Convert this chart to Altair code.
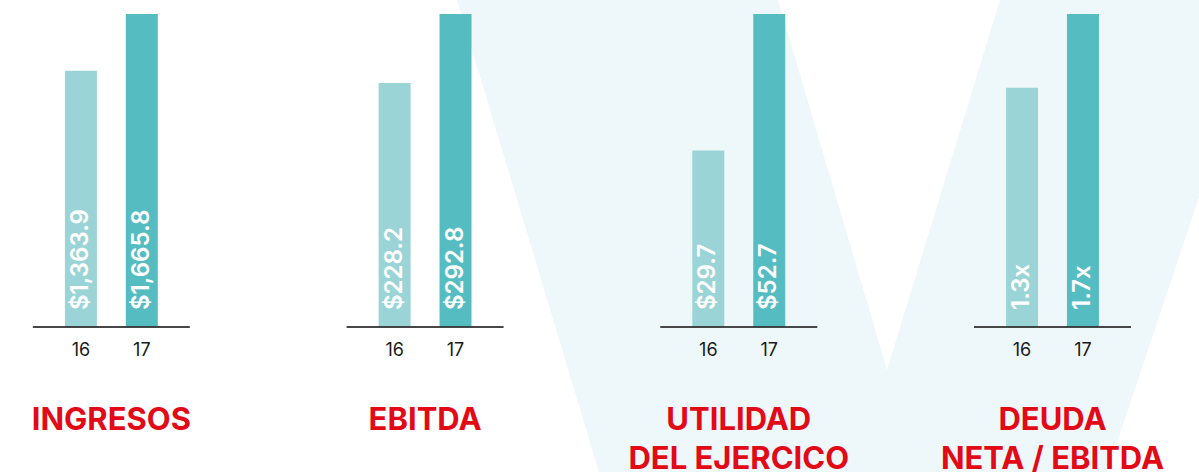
import altair as alt
import pandas as pd

# ---- data ----
panels = ["INGRESOS", "EBITDA", "UTILIDAD", "DEUDA"]
titles = ["INGRESOS", "EBITDA", "UTILIDAD\nDEL EJERCICO", "DEUDA\nNETA / EBITDA"]
years = ["16", "17"]
values_16 = [1363.9, 228.2, 29.7, 1.3]
values_17 = [1665.8, 292.8, 52.7, 1.7]
labels_16 = ["$1,363.9", "$228.2", "$29.7", "1.3x"]
labels_17 = ["$1,665.8", "$292.8", "$52.7", "1.7x"]

# decorative background "V" (canvas-space outline: x, top y, bottom y)
bg_x = [457, 599, 1107, 1265]
bg_top = [0, 0, 0, 0]
bg_bottom = [0, 472, 472, 0]
notch_x = [778, 887, 1000]
notch_top = [0, 0, 0]
notch_bottom = [0, 370, 0]

# ---- tables ----
rows = []
for p, v16, v17, l16, l17 in zip(panels, values_16, values_17, labels_16, labels_17):
    rows.append({"panel": p, "year": "16", "value": v16, "label": l16})
    rows.append({"panel": p, "year": "17", "value": v17, "label": l17})
df = pd.DataFrame(rows)
df_titles = pd.DataFrame({"panel": panels, "title": titles})
df_bg = pd.DataFrame({"x": bg_x, "y": bg_top, "y2": bg_bottom})
df_notch = pd.DataFrame({"x": notch_x, "y": notch_top, "y2": notch_bottom})

FONT = "Inter"
LIGHT = "#9BD4D6"
DARK = "#55BDC1"
RED = "#E30A17"

# ---- background ----
bx = alt.X("x:Q", axis=None, scale=alt.Scale(domain=[0, 1199], nice=False, zero=False))
by = alt.Y("y:Q", axis=None, scale=alt.Scale(domain=[0, 472], nice=False, reverse=True))
bg_outer = alt.Chart(df_bg).mark_area(color="#EEF7FA", opacity=1).encode(
    x=bx, y=by, y2="y2:Q")
bg_notch = alt.Chart(df_notch).mark_area(color="#FFFFFF", opacity=1).encode(
    x=bx, y=by, y2="y2:Q")
background = alt.layer(bg_outer, bg_notch)

# ---- bars ----
x_panel = alt.X("panel:N", sort=panels, axis=None,
                scale=alt.Scale(domain=panels, paddingInner=0.5, paddingOuter=0.161, align=0.326))
x_off = alt.XOffset("year:N", sort=years,
                    scale=alt.Scale(domain=years, paddingInner=0.475, paddingOuter=0.525))
y_norm = alt.Y("norm:Q", axis=None, scale=alt.Scale(domain=[0, 1], range=[327, 14], nice=False))

base = alt.Chart(df).transform_joinaggregate(
    vmax="max(value)", groupby=["panel"]
).transform_calculate(norm="datum.value / datum.vmax")

bars = base.mark_bar().encode(
    x=x_panel, xOffset=x_off, y=y_norm,
    color=alt.Color("year:N", legend=None,
                    scale=alt.Scale(domain=years, range=[LIGHT, DARK])),
)

value_labels = base.mark_text(
    angle=270, align="left", baseline="middle", dx=17,
    color="white", font=FONT, fontSize=24, fontWeight=600,
).encode(x=x_panel, xOffset=x_off, y=alt.datum(0), text="label:N")

year_labels = base.mark_text(
    baseline="middle", dy=24, color="#1A1A1A", font=FONT, fontSize=18,
).encode(x=x_panel, xOffset=x_off, y=alt.datum(0), text="year:N")

baseline = alt.Chart(df_titles).mark_tick(
    orient="horizontal", size=157, thickness=2, color="#333333", opacity=0.9,
).encode(x=x_panel, y=alt.datum(0))

title_text = alt.Chart(df_titles).mark_text(
    baseline="alphabetic", dy=103, lineBreak="\n", lineHeight=39,
    font=FONT, fontSize=31, fontWeight="bold", color=RED,
).encode(x=x_panel, y=alt.datum(0), text="title:N")

foreground = alt.layer(bars, value_labels, baseline, year_labels, title_text)

chart = alt.layer(background, foreground).resolve_scale(
    x="independent", y="independent"
).properties(
    width=1199, height=472, padding=0,
    autosize=alt.AutoSizeParams(type="none"),
    background="white",
).configure_view(stroke=None)

chart.save("out.html", embed_options={"renderer": "svg", "actions": False})
